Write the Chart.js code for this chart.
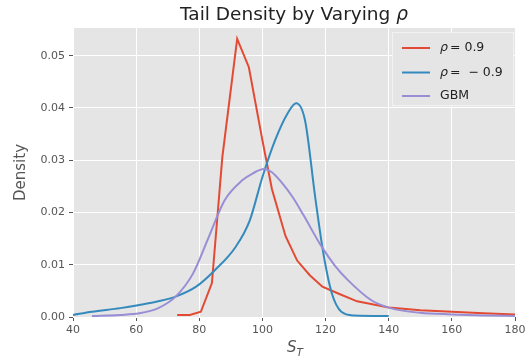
<!DOCTYPE html>
<html>
<head>
<meta charset="utf-8">
<script src="https://cdn.jsdelivr.net/npm/chart.js@4"></script>
<style>
  html, body { margin: 0; padding: 0; background: #fff; }
  #wrap { width: 525px; height: 362px; }
</style>
</head>
<body>
<div id="wrap"><canvas id="chart" width="525" height="362"></canvas></div>
<script>
// valeurs
const redX = [73, 77, 80.5, 84, 87.3, 92, 95.7, 100, 103, 107.3, 111, 115, 119, 124, 130, 140, 150, 160, 170, 180];
const redY = [0.0004, 0.0004, 0.001, 0.0065, 0.0306, 0.0532, 0.0478, 0.0338, 0.0245, 0.0155, 0.0108, 0.008, 0.0058, 0.0045, 0.003, 0.0018, 0.0013, 0.001, 0.0007, 0.0005];

const blueX = [40, 46, 55, 61, 67, 72.5, 79, 85, 91.5, 96, 100, 104, 108, 110.7, 113.5, 116.7, 119.3, 122, 125, 129, 140];
const blueY = [0.0004, 0.001, 0.0017, 0.0023, 0.003, 0.0039, 0.0058, 0.009, 0.0134, 0.0185, 0.0268, 0.0338, 0.039, 0.0409, 0.0376, 0.023, 0.0122, 0.0045, 0.001, 0.0003, 0.0002];

const gbmX = [46, 55, 61, 67, 72.5, 78, 83, 88, 93.5, 97, 100.5, 103, 106, 109.5, 113, 118.5, 123, 127, 134.5, 140, 150, 160, 170, 180];
const gbmY = [0.0002, 0.0004, 0.0007, 0.0017, 0.0039, 0.0083, 0.0153, 0.0223, 0.0261, 0.0275, 0.0283, 0.0277, 0.0258, 0.023, 0.0195, 0.0137, 0.0098, 0.0071, 0.0032, 0.0018, 0.0008, 0.0005, 0.0003, 0.0002];

const xTicks = [40, 60, 80, 100, 120, 140, 160, 180];
const yTicks = [0, 0.01, 0.02, 0.03, 0.04, 0.05];

const labels = ['ρ = 0.9', 'ρ = −0.9', 'GBM'];
const colors = ['#E24A33', '#348ABD', '#988ED5'];

const toPts = (xs, ys) => xs.map((x, i) => ({ x: x, y: ys[i] }));

const FONT = 'DejaVu Sans, sans-serif';

// fond gris de la zone de tracé
const bgPlugin = {
    id: 'bg',
    beforeDraw(chart) {
        const { ctx, chartArea: a } = chart;
        ctx.save();
        ctx.fillStyle = '#E5E5E5';
        ctx.fillRect(a.left, a.top, a.right - a.left, a.bottom - a.top);
        ctx.restore();
    }
};

// titre, libellés d'axes et légende dessinés à la main
const textPlugin = {
    id: 'texts',
    afterDraw(chart) {
        const { ctx, chartArea: a } = chart;
        ctx.save();
        ctx.textBaseline = 'middle';

        // titre avec rho en italique
        ctx.fillStyle = '#222';
        ctx.font = '18.5px ' + FONT;
        const t1 = 'Tail Density by Varying ';
        const w1 = ctx.measureText(t1).width;
        ctx.font = 'italic 18.5px ' + FONT;
        const w2 = ctx.measureText('ρ').width;
        const cx = (a.left + a.right) / 2;
        let x0 = cx - (w1 + w2) / 2;
        ctx.textAlign = 'left';
        ctx.font = '18.5px ' + FONT;
        ctx.fillText(t1, x0, 15);
        ctx.font = 'italic 18.5px ' + FONT;
        ctx.fillText('ρ', x0 + w1, 15);

        // axe y
        ctx.fillStyle = '#555';
        ctx.font = '15px ' + FONT;
        ctx.save();
        ctx.translate(21, (a.top + a.bottom) / 2);
        ctx.rotate(-Math.PI / 2);
        ctx.textAlign = 'center';
        ctx.fillText('Density', 0, 0);
        ctx.restore();

        // axe x : S_T
        ctx.font = 'italic 15px ' + FONT;
        ctx.textAlign = 'left';
        const sw = ctx.measureText('S').width;
        const sx = cx - 7;
        ctx.fillText('S', sx, 348);
        ctx.font = 'italic 10.5px ' + FONT;
        ctx.fillText('T', sx + sw, 353);

        // légende
        const lx = 392, ly = 32, lw = 122, lh = 74;
        ctx.fillStyle = '#E5E5E5';
        ctx.strokeStyle = '#F2F2F2';
        ctx.lineWidth = 1;
        ctx.fillRect(lx, ly, lw, lh);
        ctx.strokeRect(lx + 0.5, ly + 0.5, lw - 1, lh - 1);
        const rows = [48, 72.5, 96];
        rows.forEach((ry, i) => {
            ctx.strokeStyle = colors[i];
            ctx.lineWidth = 2;
            ctx.beginPath();
            ctx.moveTo(402, ry);
            ctx.lineTo(430, ry);
            ctx.stroke();
            ctx.fillStyle = '#222';
            ctx.textAlign = 'left';
            if (i < 2) {
                ctx.font = 'italic 12.5px ' + FONT;
                ctx.fillText('ρ', 440, ry);
                ctx.font = '12.5px ' + FONT;
                ctx.fillText(i === 0 ? '= 0.9' : '=  − 0.9', 450, ry);
            } else {
                ctx.font = '12.5px ' + FONT;
                ctx.fillText(labels[i], 440, ry);
            }
        });
        ctx.restore();
    }
};

new Chart(document.getElementById('chart'), {
    type: 'line',
    data: {
        datasets: [
            { label: labels[0], data: toPts(redX, redY), borderColor: colors[0], borderWidth: 2, pointRadius: 0, tension: 0, order: 3 },
            { label: labels[1], data: toPts(blueX, blueY), borderColor: colors[1], borderWidth: 2, pointRadius: 0, cubicInterpolationMode: 'monotone', order: 2 },
            { label: labels[2], data: toPts(gbmX, gbmY), borderColor: colors[2], borderWidth: 2, pointRadius: 0, cubicInterpolationMode: 'monotone', order: 1 }
        ]
    },
    options: {
        responsive: false,
        animation: false,
        layout: { padding: { top: 28, right: 0, left: 0, bottom: 0 } },
        plugins: { legend: { display: false }, tooltip: { enabled: false } },
        scales: {
            x: {
                type: 'linear',
                min: 40, max: 180,
                afterBuildTicks: s => { s.ticks = xTicks.map(v => ({ value: v })); },
                afterFit: s => { s.height = 45; s.paddingRight = 10; s.paddingLeft = 0; },
                grid: { color: '#FFFFFF', lineWidth: 1, tickColor: '#555', tickLength: 4 },
                border: { display: false },
                ticks: { color: '#555', font: { family: FONT, size: 11 }, padding: 3, maxRotation: 0 }
            },
            y: {
                min: 0, max: 0.0553,
                afterBuildTicks: s => { s.ticks = yTicks.map(v => ({ value: v })); },
                afterFit: s => { s.width = 73; },
                grid: { color: '#FFFFFF', lineWidth: 1, tickColor: '#555', tickLength: 4 },
                border: { display: false },
                ticks: { color: '#555', font: { family: FONT, size: 11 }, padding: 4, callback: v => v.toFixed(2) }
            }
        }
    },
    plugins: [bgPlugin, textPlugin]
});
</script>
</body>
</html>
